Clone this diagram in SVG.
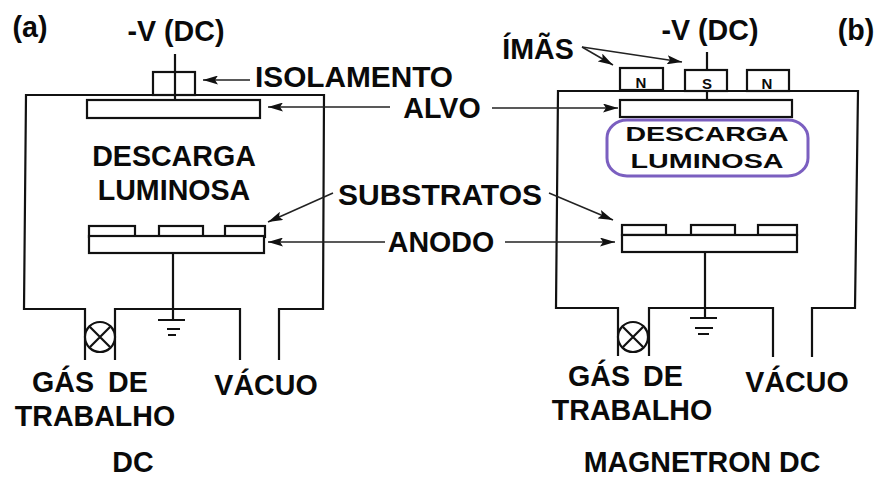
<svg xmlns="http://www.w3.org/2000/svg" width="877" height="478" viewBox="0 0 877 478">
<style>
text{font-family:"Liberation Sans",Arial,sans-serif;font-weight:700;fill:#0a0a0a;font-size:28.6px;text-anchor:middle}
.l{text-anchor:start}
.s{fill:none;stroke:#111;stroke-width:2.2}
.b{fill:#fff;stroke:#111;stroke-width:2.2}
.a{fill:none;stroke:#222;stroke-width:1.5;marker-end:url(#h)}
.m{font-size:15px}
.d{font-size:21px}
</style>
<defs><marker id="h" markerUnits="userSpaceOnUse" markerWidth="16" markerHeight="9" refX="15" refY="4.5" orient="auto"><path d="M0 0L15 4.5L0 9L3 4.5Z" fill="#111"/></marker></defs>
<rect width="877" height="478" fill="#fff"/>
<g id="chamber-a"><path class="s" d="M85 360V309H24L26 95H324L323 309H279V360M240 360V309H115V360"/></g>
<g id="insulator-a"><rect class="b" x="153" y="72" width="42" height="23"/></g>
<g id="target-a"><rect class="b" x="87" y="100" width="173" height="18"/></g>
<g id="substrates-a"><rect class="b" x="89" y="226" width="46" height="11"/><rect class="b" x="159" y="226" width="44" height="11"/><rect class="b" x="225" y="226" width="40" height="11"/></g>
<g id="anode-a"><rect class="b" x="89" y="236" width="175" height="17"/></g>
<g id="valve-a"><circle class="b" cx="100" cy="337" r="15"/><path class="s" d="M90 327L110 347M110 327L90 347"/></g>
<g id="ground-a"><path class="s" d="M158 320H185M167 329H180M168 335H176"/></g>
<g id="chamber-b"><path class="s" d="M618 356V308H556L558 91H858L855 308H812V357M773 357V308H649V356"/></g>
<g id="magnet-n1"><rect class="b" x="620" y="68" width="43" height="22"/><text class="m" x="641" y="88">N</text></g>
<g id="magnet-s"><rect class="b" x="685" y="70" width="42" height="21"/><text class="m" x="707" y="89">S</text></g>
<g id="magnet-n2"><rect class="b" x="747" y="70" width="42" height="21"/><text class="m" x="767" y="89">N</text></g>
<g id="target-b"><rect class="b" x="620" y="100" width="172" height="17"/></g>
<g id="substrates-b"><rect class="b" x="622" y="225" width="44" height="10"/><rect class="b" x="691" y="225" width="44" height="10"/><rect class="b" x="758" y="225" width="39" height="10"/></g>
<g id="anode-b"><rect class="b" x="622" y="235" width="175" height="17"/></g>
<g id="valve-b"><circle class="b" cx="633" cy="337" r="15"/><path class="s" d="M623 327L643 347M643 327L623 347"/></g>
<g id="ground-b"><path class="s" d="M690 318H717M695 328H713M698 334H709"/></g>
<g id="discharge-b"><rect x="607" y="120" width="201" height="56" rx="20" ry="18" fill="none" stroke="#7b5fc0" stroke-width="3"/><text class="d" x="707" y="141" textLength="163" lengthAdjust="spacingAndGlyphs">DESCARGA</text><text class="d" x="707" y="168" textLength="153" lengthAdjust="spacingAndGlyphs">LUMINOSA</text></g>
<g id="connectors">
<path class="s" d="M175 54V100M173 253V320M707 52V70M707 91V100M705 252V318"/>
<path class="a" d="M250 80H203"/>
<path class="a" d="M390 107H268"/>
<path class="a" d="M492 108H618"/>
<path class="a" d="M333 193L268 222"/>
<path class="a" d="M549 193L613 220"/>
<path class="a" d="M385 242H268"/>
<path class="a" d="M505 242H615"/>
<path class="a" d="M582 47L613 65"/>
<path class="a" d="M582 47L682 62"/>
</g>
<g id="labels">
<text x="30" y="37">(a)</text>
<text x="176" y="41">-V (DC)</text>
<text x="710" y="40">-V (DC)</text>
<text x="856" y="40">(b)</text>
<text x="538" y="59">ÍMÃS</text>
<text x="354" y="87" textLength="198" lengthAdjust="spacingAndGlyphs">ISOLAMENTO</text>
<text x="442" y="118">ALVO</text>
<text x="174" y="166">DESCARGA</text>
<text x="174" y="200">LUMINOSA</text>
<text x="440" y="205" textLength="204" lengthAdjust="spacingAndGlyphs">SUBSTRATOS</text>
<text x="441" y="252">ANODO</text>
<text class="l" x="32" y="392">GÁS<tspan x="108">DE</tspan></text>
<text x="95" y="426">TRABALHO</text>
<text x="266" y="395">VÁCUO</text>
<text x="133" y="472">DC</text>
<text class="l" x="568" y="386">GÁS<tspan x="643">DE</tspan></text>
<text x="632" y="420">TRABALHO</text>
<text x="797" y="392">VÁCUO</text>
<text x="702" y="472">MAGNETRON DC</text>
</g>
</svg>
